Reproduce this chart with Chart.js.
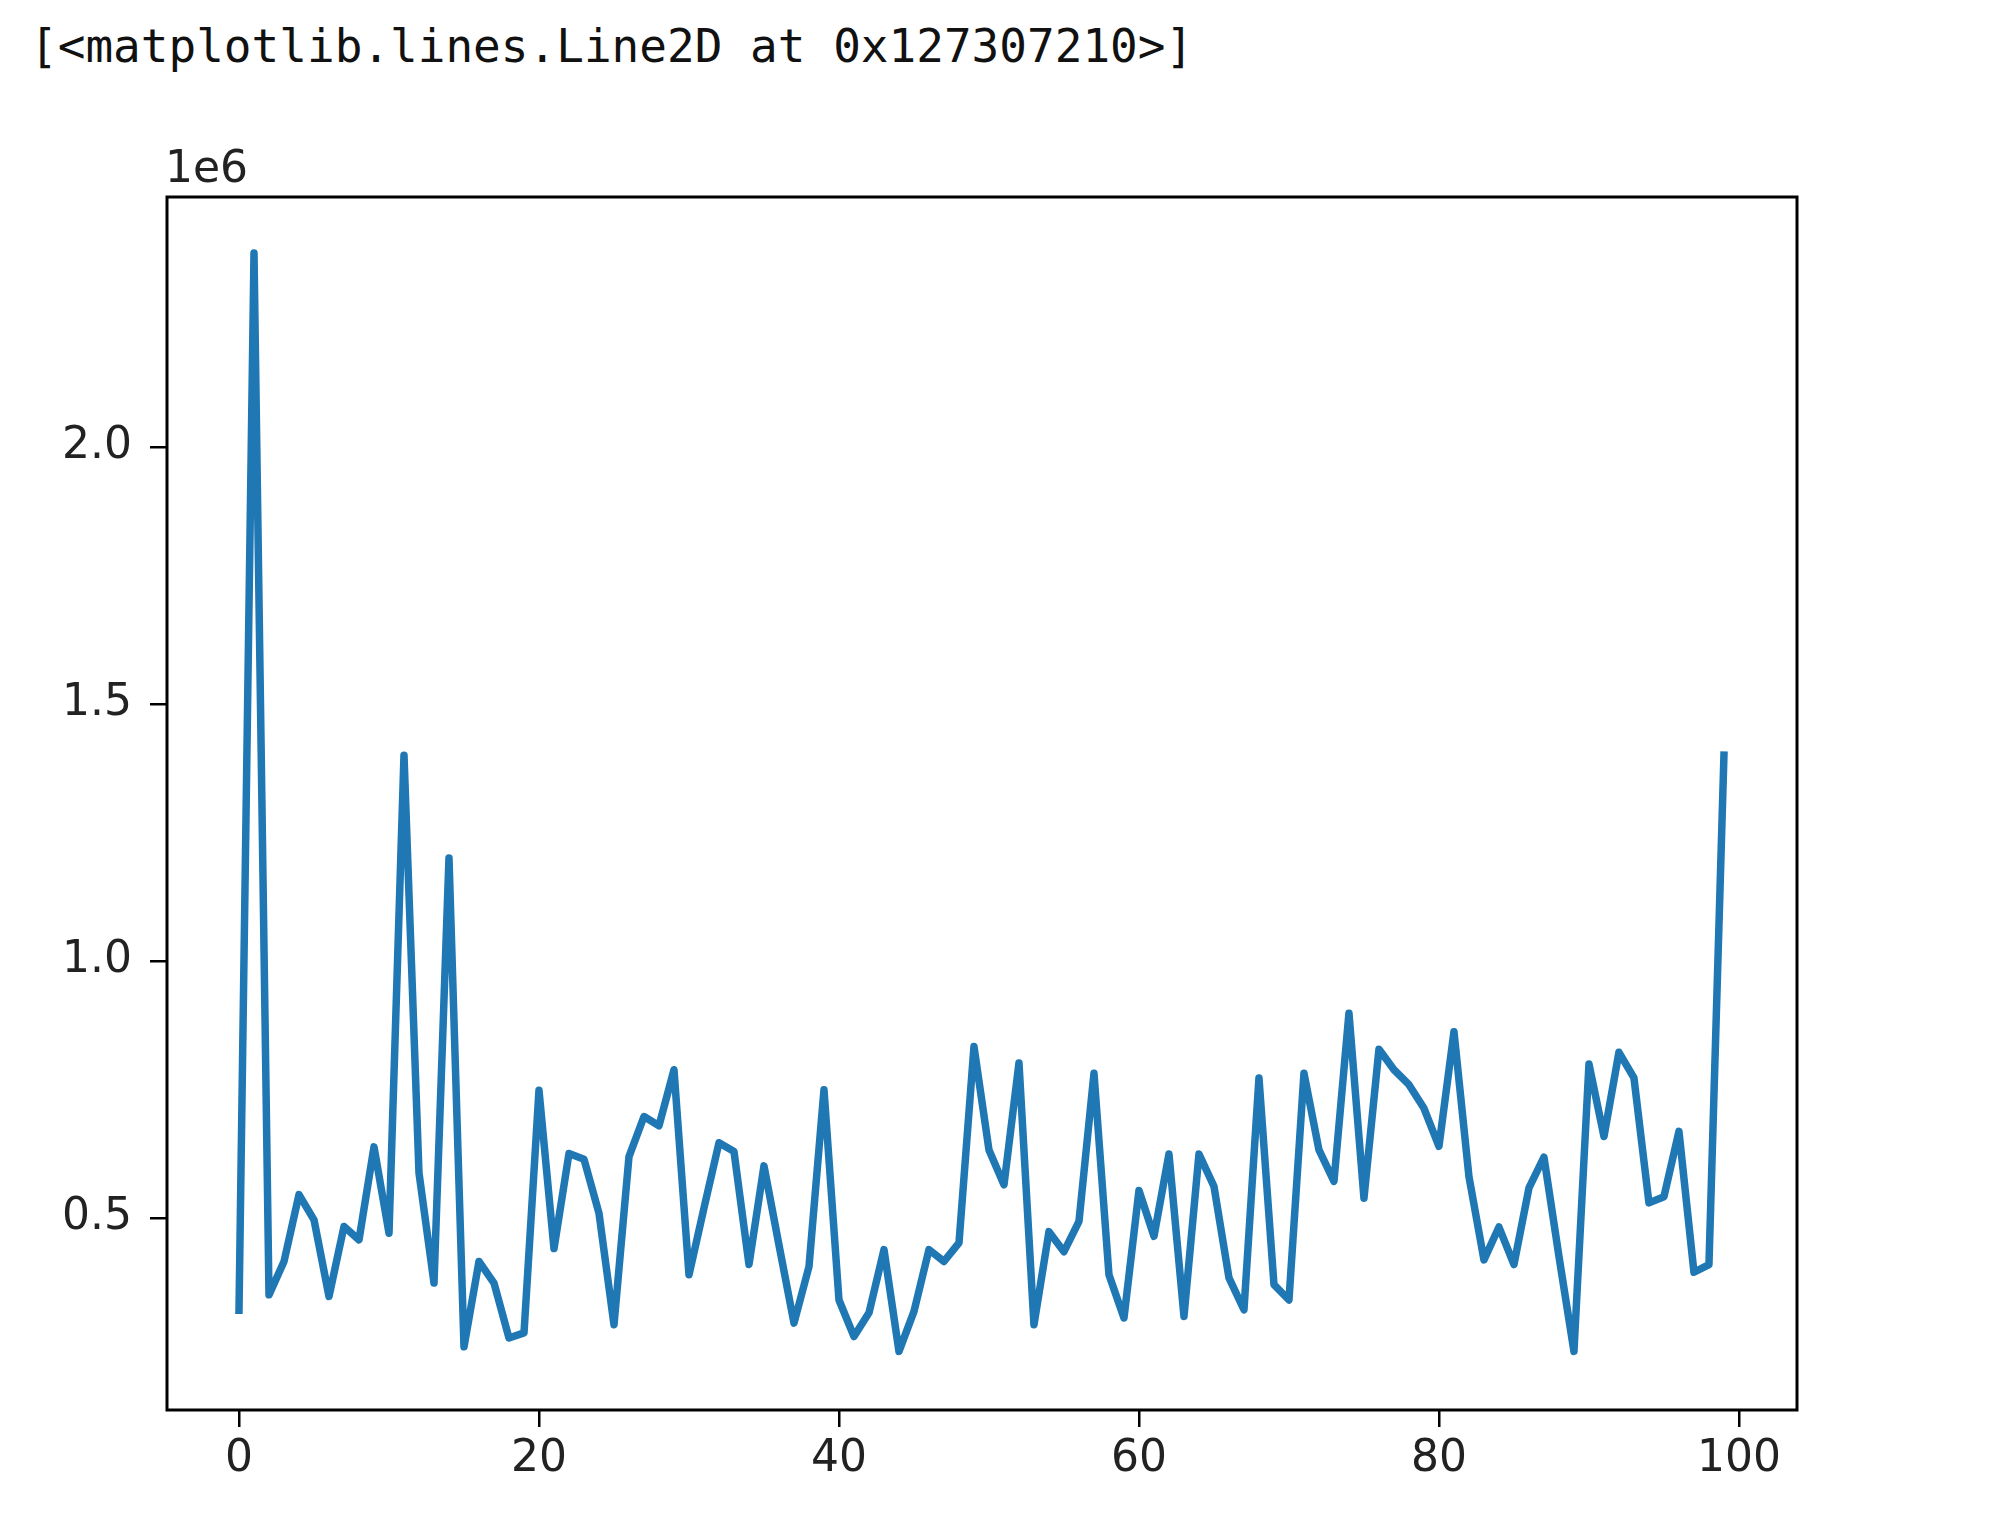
<!DOCTYPE html>
<html>
<head>
<meta charset="utf-8">
<script src="https://cdn.jsdelivr.net/npm/chart.js"></script>
<style>
  body { margin: 0; background: #fff; }
  #saida {
    position: absolute; left: 30px; top: 23px;
    font: 46px/46px "DejaVu Sans Mono", monospace; color: #111; white-space: pre;
  }
  #grafico { position: absolute; left: 0; top: 0; }
</style>
</head>
<body>
<div id="saida">[&lt;matplotlib.lines.Line2D at 0x127307210&gt;]</div>
<canvas id="grafico" width="2000" height="1540"></canvas>
<script>
// ------------ Dados ------------ //

var valores = [
    320000, 2377000, 350000, 415000, 545000, 496000, 347000, 483000, 457000, 638000,
    470000, 1400000, 587000, 373000, 1200000, 249000, 415000, 373000, 266000, 276000,
    748000, 440000, 625000, 614000, 509000, 292000, 619000, 697000, 679000, 788000,
    389000, 519000, 646000, 629000, 409000, 601000, 447000, 295000, 405000, 749000,
    340000, 269000, 315000, 438000, 240000, 318000, 438000, 415000, 451000, 833000,
    632000, 564000, 801000, 292000, 473000, 434000, 493000, 781000, 389000, 305000,
    553000, 464000, 624000, 308000, 624000, 561000, 383000, 321000, 772000, 370000,
    340000, 781000, 632000, 571000, 898000, 538000, 828000, 788000, 759000, 713000,
    639000, 862000, 580000, 418000, 482000, 409000, 558000, 618000, 425000, 240000,
    799000, 658000, 822000, 772000, 529000, 541000, 668000, 394000, 409000, 1400000
];

var ticksX = [0, 20, 40, 60, 80, 100];
var ticksY = [500000, 1000000, 1500000, 2000000];
var escalaY = '1e6';

// ------------ Plugin: moldura e texto do offset ------------ //

var moldura = {
    id: 'moldura',
    afterDraw: function (chart) {
        var ctx = chart.ctx;
        var a = chart.chartArea;
        ctx.save();
        ctx.strokeStyle = '#000';
        ctx.lineWidth = 3;
        ctx.strokeRect(a.left, a.top, a.right - a.left, a.bottom - a.top);
        ctx.font = '44px "DejaVu Sans"';
        ctx.fillStyle = '#222';
        ctx.textBaseline = 'alphabetic';
        ctx.fillText(escalaY, a.left - 2, a.top - 15);
        ctx.restore();
    }
};

// ------------ Configuração do gráfico ------------ //

var pontos = valores.map(function (v, i) { return { x: i, y: v }; });

var ctx = document.getElementById('grafico').getContext('2d');
var grafico = new Chart(ctx, {
    type: 'line',
    data: {
        datasets: [{
            data: pontos,
            borderColor: '#1f77b4',
            borderWidth: 7.5,
            borderCapStyle: 'square',
            borderJoinStyle: 'round',
            pointRadius: 0,
            tension: 0,
            fill: false
        }]
    },
    options: {
        responsive: false,
        animation: false,
        devicePixelRatio: 1,
        layout: { padding: { left: 0, top: 197, right: 203, bottom: 0 } },
        plugins: { legend: { display: false }, tooltip: { enabled: false } },
        scales: {
            x: {
                type: 'linear',
                min: -4.8,
                max: 103.87,
                afterBuildTicks: function (s) { s.ticks = ticksX.map(function (v) { return { value: v }; }); },
                afterFit: function (s) { s.height = 130; },
                grid: { drawOnChartArea: false, tickLength: 17, color: '#000', lineWidth: 2.5 },
                border: { display: false },
                ticks: {
                    padding: 6,
                    maxRotation: 0,
                    color: '#222',
                    font: { family: 'DejaVu Sans', size: 44 },
                    callback: function (v) { return String(v); }
                }
            },
            y: {
                type: 'linear',
                min: 126000,
                max: 2486000,
                afterBuildTicks: function (s) { s.ticks = ticksY.map(function (v) { return { value: v }; }); },
                afterFit: function (s) { s.width = 167; },
                grid: { drawOnChartArea: false, tickLength: 17, color: '#000', lineWidth: 2.5 },
                border: { display: false },
                ticks: {
                    padding: 18,
                    color: '#222',
                    font: { family: 'DejaVu Sans', size: 44 },
                    callback: function (v) { return (v / 1e6).toFixed(1); }
                }
            }
        }
    },
    plugins: [moldura]
});
</script>
</body>
</html>
